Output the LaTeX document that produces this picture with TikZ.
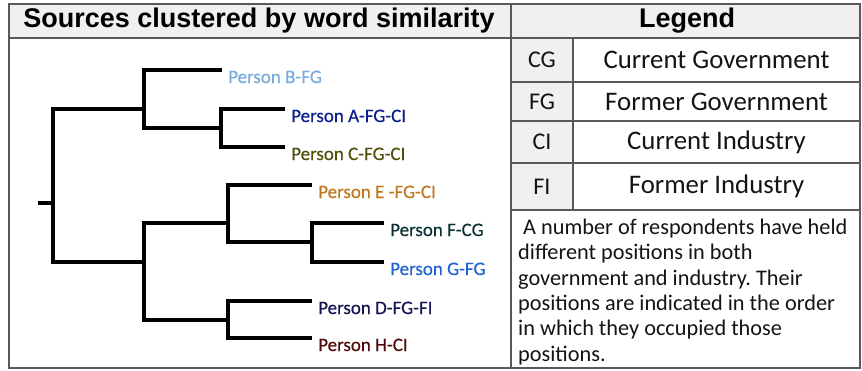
\documentclass[tikz,border=0pt]{standalone}
\usepackage{fontspec}
\setmainfont{Carlito}
\newfontfamily\headfont{Liberation Sans}
\newfontfamily\leaffont[FakeBold=0.4]{Carlito}
\frenchspacing
\begin{document}
\begin{tikzpicture}[x=1pt,y=-1pt,
  rule/.style={draw=black!65,line width=1.3pt},
  cellfill/.style={fill=black!6},
  branch/.style={draw=black,line width=3.2pt,line cap=rect},
  leaf/.style={anchor=base west,inner sep=0pt,font=\leaffont\fontsize{19}{22}\selectfont},
  headtxt/.style={font=\headfont\bfseries\fontsize{27}{30}\selectfont},
  abbr/.style={font=\fontsize{24}{28}\selectfont,text=black!92},
  full/.style={font=\fontsize{26.8}{30}\selectfont,text=black!92}]
\definecolor{cB}{HTML}{78AADC}
\definecolor{cA}{HTML}{0A1E8C}
\definecolor{cC}{HTML}{50500A}
\definecolor{cE}{HTML}{BE781E}
\definecolor{cF}{HTML}{0A3232}
\definecolor{cG}{HTML}{1E64D2}
\definecolor{cD}{HTML}{141450}
\definecolor{cH}{HTML}{500A0A}
\useasboundingbox (0,0) rectangle (862,370);
\fill[white] (0,0) rectangle (862,370);

% header band and shaded abbreviation column
\fill[cellfill] (9,4) rectangle (860,38);
\fill[cellfill] (511,38) rectangle (573,210);

% table rules
\draw[rule] (9,4) rectangle (860,368);
\draw[rule] (9,38) -- (860,38);
\draw[rule] (511,4) -- (511,368);
\draw[rule] (573,38) -- (573,210);
\foreach \yy in {82,121,163,210} \draw[rule] (511,\yy) -- (860,\yy);

% headings
\node[headtxt] (htree) at (259,21) {Sources clustered by word similarity};
\node[headtxt] (hleg) at (687,21) {Legend};

% legend entries
\node[abbr] (aCG) at (542,60) {CG};
\node[abbr] (aFG) at (542,101.5) {FG};
\node[abbr] (aCI) at (542,142) {CI};
\node[abbr] (aFI) at (542,186.5) {FI};
\node[full] (fCG) at (716.5,60) {Current Government};
\node[full] (fFG) at (716.5,101.5) {Former Government};
\node[full] (fCI) at (716.5,142) {Current Industry};
\node[full] (fFI) at (716.5,186.5) {Former Industry};

\node[anchor=north west,inner sep=0pt,align=left,text=black!92,
      font=\fontsize{22.3}{25.3}\selectfont] (note) at (518,219)
  {\ A number of respondents have held\\
   different positions in both\\
   government and industry. Their\\
   positions are indicated in the order\\
   in which they occupied those\\
   positions.};

% dendrogram junctions
\coordinate (stub) at (40,203);
\coordinate (rt) at (53,109);
\coordinate (rb) at (53,262);
\coordinate (t1) at (144,109);
\coordinate (t1a) at (144,70);
\coordinate (t1b) at (144,128);
\coordinate (t2) at (221,128);
\coordinate (t2a) at (221,109);
\coordinate (t2b) at (221,147);
\coordinate (b1) at (144,262);
\coordinate (b1a) at (144,223);
\coordinate (b1b) at (144,320);
\coordinate (b2) at (228,223);
\coordinate (b2a) at (228,185);
\coordinate (b2b) at (228,242);
\coordinate (b3) at (312,242);
\coordinate (b3a) at (312,223);
\coordinate (b3b) at (312,262);
\coordinate (b4) at (228,320);
\coordinate (b4a) at (228,301);
\coordinate (b4b) at (228,338);

% leaf ends
\coordinate (eB) at (220,70);
\coordinate (eA) at (283,109);
\coordinate (eC) at (283,147);
\coordinate (eE) at (310,185);
\coordinate (eF) at (382,223);
\coordinate (eG) at (382,262);
\coordinate (eD) at (310,301);
\coordinate (eH) at (310,338);

% leaf labels
\node[leaf,text=cB] (lB) at ([shift={(8,13)}]eB) {Person B-FG};
\node[leaf,text=cA] (lA) at ([shift={(8,13)}]eA) {Person A-FG-CI};
\node[leaf,text=cC] (lC) at ([shift={(8,13)}]eC) {Person C-FG-CI};
\node[leaf,text=cE] (lE) at ([shift={(8,13)}]eE) {Person E -FG-CI};
\node[leaf,text=cF] (lF) at ([shift={(8,13)}]eF) {Person F-CG};
\node[leaf,text=cG] (lG) at ([shift={(8,13)}]eG) {Person G-FG};
\node[leaf,text=cD] (lD) at ([shift={(8,13)}]eD) {Person D-FG-FI};
\node[leaf,text=cH] (lH) at ([shift={(8,13)}]eH) {Person H-CI};

% dendrogram branches
\draw[branch] (stub) -- (stub -| rt);
\draw[branch] (rt) -- (rb);
\draw[branch] (rt) -- (t1);
\draw[branch] (t1a) -- (t1b);
\draw[branch] (t1a) -- (eB);
\draw[branch] (t1b) -- (t2);
\draw[branch] (t2a) -- (t2b);
\draw[branch] (t2a) -- (eA);
\draw[branch] (t2b) -- (eC);
\draw[branch] (rb) -- (b1);
\draw[branch] (b1a) -- (b1b);
\draw[branch] (b1a) -- (b2);
\draw[branch] (b2a) -- (b2b);
\draw[branch] (b2a) -- (eE);
\draw[branch] (b2b) -- (b3);
\draw[branch] (b3a) -- (b3b);
\draw[branch] (b3a) -- (eF);
\draw[branch] (b3b) -- (eG);
\draw[branch] (b1b) -- (b4);
\draw[branch] (b4a) -- (b4b);
\draw[branch] (b4a) -- (eD);
\draw[branch] (b4b) -- (eH);
\end{tikzpicture}
\end{document}
